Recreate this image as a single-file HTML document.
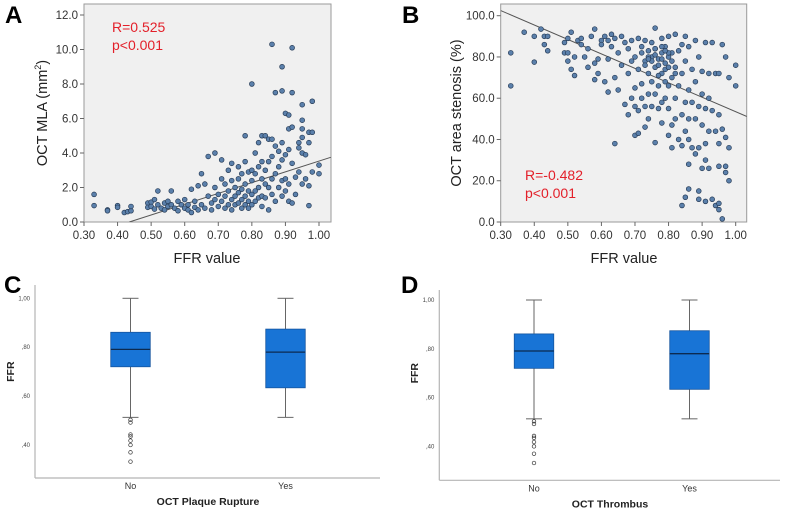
<!DOCTYPE html>
<html><head><meta charset="utf-8"><style>
body{margin:0;background:#fff;width:789px;height:513px;overflow:hidden;font-family:"Liberation Sans",sans-serif}
svg{display:block}
</style></head><body>
<svg width="789" height="513" viewBox="0 0 789 513">
<g id="gA"></g>
<g id="gB"></g>
<g id="gC"></g>
<g id="gD"></g>
</svg>
<script>
const ffrA=[0.33,0.33,0.37,0.37,0.40,0.40,0.42,0.43,0.44,0.44,0.49,0.49,0.50,0.50,0.51,0.51,0.52,0.52,0.53,0.54,0.54,0.55,0.55,0.56,0.56,0.57,0.58,0.58,0.59,0.60,0.60,0.61,0.61,0.62,0.62,0.63,0.63,0.64,0.64,0.65,0.65,0.66,0.66,0.67,0.67,0.68,0.68,0.69,0.69,0.69,0.70,0.70,0.71,0.71,0.71,0.72,0.72,0.72,0.73,0.73,0.73,0.74,0.74,0.74,0.74,0.75,0.75,0.75,0.76,0.76,0.76,0.76,0.77,0.77,0.77,0.77,0.78,0.78,0.78,0.78,0.78,0.79,0.79,0.79,0.79,0.80,0.80,0.80,0.80,0.80,0.81,0.81,0.81,0.81,0.82,0.82,0.82,0.82,0.83,0.83,0.83,0.83,0.83,0.84,0.84,0.84,0.84,0.85,0.85,0.85,0.85,0.86,0.86,0.86,0.86,0.86,0.87,0.87,0.87,0.87,0.88,0.88,0.88,0.89,0.89,0.89,0.89,0.89,0.89,0.90,0.90,0.90,0.90,0.91,0.91,0.91,0.91,0.91,0.92,0.92,0.92,0.92,0.92,0.93,0.93,0.94,0.94,0.94,0.95,0.95,0.95,0.95,0.95,0.95,0.96,0.96,0.97,0.97,0.97,0.97,0.98,0.98,0.98,1.00,1.00];
const mlaA=[1.6,0.95,0.7,0.65,0.95,0.85,0.55,0.6,0.65,0.9,1.1,0.85,1.15,0.9,1.3,0.75,1.8,1.0,0.8,1.1,0.7,1.2,0.9,1.8,1.0,0.8,1.2,0.65,1.0,1.3,0.8,1.0,0.7,1.9,0.55,1.2,0.85,2.1,0.7,2.8,1.0,2.2,0.8,3.8,1.5,1.1,0.7,4.0,2.0,1.3,1.6,0.9,3.6,2.5,1.2,2.2,1.5,0.8,3.0,1.8,1.0,3.4,2.4,1.3,0.7,2.0,1.5,1.0,3.2,2.5,1.7,1.1,2.8,1.9,1.3,0.8,5.0,3.5,2.2,1.5,1.0,2.9,1.8,1.2,0.8,8.0,3.0,2.4,1.6,1.0,4.0,2.8,1.8,1.2,4.6,3.2,2.0,1.4,5.0,3.5,2.5,1.5,0.9,5.0,3.0,2.2,1.4,4.8,3.5,2.0,0.7,10.3,4.8,3.8,2.5,1.6,7.5,4.4,2.8,1.2,4.1,3.2,2.0,9.0,7.6,4.6,3.6,2.4,1.5,6.3,3.9,2.5,1.8,6.2,5.4,4.2,2.2,1.2,10.1,7.5,5.5,3.4,1.1,2.6,1.6,4.6,4.3,2.9,6.8,5.9,5.4,4.9,4.0,2.2,3.9,2.5,5.2,4.6,2.1,0.95,7.0,5.2,2.9,3.3,2.8];
const fitA=[[0.435,0],[1.035,3.75]];
const xTicks=["0.30","0.40","0.50","0.60","0.70","0.80","0.90","1.00"];
const xTickVals=[0.3,0.4,0.5,0.6,0.7,0.8,0.9,1.0];
const yTicksA=[0,2,4,6,8,10,12];
const ffrB=[0.33,0.33,0.37,0.40,0.40,0.42,0.43,0.43,0.44,0.44,0.49,0.49,0.50,0.50,0.50,0.51,0.51,0.52,0.52,0.53,0.54,0.54,0.55,0.56,0.56,0.57,0.58,0.58,0.58,0.59,0.59,0.60,0.60,0.61,0.61,0.62,0.62,0.62,0.63,0.63,0.64,0.64,0.64,0.65,0.65,0.66,0.66,0.67,0.67,0.68,0.68,0.68,0.69,0.69,0.69,0.70,0.70,0.70,0.70,0.71,0.71,0.71,0.71,0.72,0.72,0.72,0.73,0.73,0.73,0.73,0.74,0.74,0.74,0.74,0.75,0.75,0.75,0.75,0.76,0.76,0.76,0.76,0.76,0.77,0.77,0.77,0.78,0.78,0.78,0.78,0.78,0.79,0.79,0.79,0.79,0.80,0.80,0.80,0.80,0.80,0.81,0.81,0.81,0.81,0.82,0.82,0.82,0.82,0.83,0.83,0.83,0.84,0.84,0.84,0.84,0.84,0.85,0.85,0.85,0.85,0.85,0.86,0.86,0.86,0.86,0.86,0.86,0.87,0.87,0.87,0.88,0.88,0.88,0.88,0.89,0.89,0.89,0.89,0.89,0.90,0.90,0.90,0.90,0.91,0.91,0.91,0.91,0.91,0.92,0.92,0.92,0.92,0.93,0.93,0.93,0.94,0.94,0.94,0.95,0.95,0.95,0.95,0.95,0.95,0.96,0.96,0.96,0.97,0.97,0.97,0.97,0.98,0.98,0.98,1.00,1.00,0.72,0.74,0.75,0.76,0.77,0.78,0.79,0.80,0.81,0.73,0.76,0.78,0.80,0.82,0.74,0.77,0.79];
const stenB=[82,66,92,90,77.5,93.5,90,86,83,90,87,82,89,82,78,92,74,71,80,88,86,89,80,75,84,90,93.5,77,69,72,79,88,86,90,68,88,79,63,91,85,38,70,89,64,82,90,76,57,87,52,72,84,60,78,88,42,56,65,80,43,54,74,89,67,85,60,46,56,78,88,50,62,72,83,56,68,80,87,38.5,94,62,75,84,55,66,79,48,58,72,82,89,60,68,77,85,42,55,66,80,90,36,47,70,82,91,60,75,50,40,66,83,8,37,52,72,86,12,44,58,78,90,16,28,40,50,64,85,36,58,74,33,50,68,88,11,15,36,56,80,26,47,62,73,10,30,38,55,87,26,44,60,72,11,54,87,8,44,72,6,9,27,38,52,72,1.5,45,86,24,27,41,80,20,36,70,66,76,82,80,78,81,76,79,74,82,78,76,84,85,75,72,79,71,83];
const fitB=[[0.30,102.5],[1.035,51]];
const yTicksB=[0,20,40,60,80,100];
const boxGroups=["No","Yes"];
const boxMin=[0.513,0.513];
const boxQ1=[0.720,0.634];
const boxMed=[0.791,0.780];
const boxQ3=[0.861,0.874];
const boxMax=[1.00,1.00];
const outliersNo=[0.503,0.492,0.443,0.435,0.418,0.400,0.370,0.332];
const boxTicks=["1,00",",80",",60",",40"];
const boxTickVals=[1.0,0.8,0.6,0.4];

const NS="http://www.w3.org/2000/svg";
function mk(parent,tag,attrs,text){const e=document.createElementNS(NS,tag);for(const k in attrs)e.setAttribute(k,attrs[k]);if(text!==undefined)e.textContent=text;parent.appendChild(e);return e;}

function scatter(g,o){
  const sx=v=>o.x0+(v-0.3)*o.kx, sy=v=>o.yb-(v-o.ymin)*o.ky;
  const bg=mk(g,'rect',{x:o.x0,y:o.top,width:o.right-o.x0,height:o.yb-o.top,fill:'#f0f0f0',stroke:'#9a9a9a','stroke-width':1});
  
  
  xTickVals.forEach((v,i)=>{
    mk(g,'line',{x1:sx(v),x2:sx(v),y1:o.yb,y2:o.yb+4,stroke:'#666'});
    const t=mk(g,'text',{x:sx(v),y:o.yb+17,'text-anchor':'middle','font-size':11.5,fill:'#333'},xTicks[i]);
    
    
  });
  o.yt.forEach(v=>{
    mk(g,'line',{x1:o.x0-4,x2:o.x0,y1:sy(v),y2:sy(v),stroke:'#666'});
    const t=mk(g,'text',{x:o.x0-6,y:sy(v)+4,'text-anchor':'end','font-size':11.5,fill:'#333'},v.toFixed(1));
    
    
  });
  const clip=mk(g,'clipPath',{id:o.id+'clip'});mk(clip,'rect',{x:o.x0,y:o.top,width:o.right-o.x0,height:o.yb-o.top});
  const fl=mk(g,'line',{x1:sx(o.fit[0][0]),y1:sy(o.fit[0][1]),x2:sx(o.fit[1][0]),y2:sy(o.fit[1][1]),stroke:'#555','stroke-width':1,'clip-path':'url(#'+o.id+'clip)'});
  
  
  o.xs.forEach((v,i)=>{
    const c=mk(g,'circle',{cx:sx(v),cy:sy(o.ys[i]),r:2.4,fill:'#5b80ab',stroke:'#253a55','stroke-width':0.7});
    
    
  });
  const xt=mk(g,'text',{x:o.xtx,y:263,'text-anchor':'middle','font-size':14.5,fill:'#222'},'FFR value');
  
  
  const yt=mk(g,'text',{x:0,y:0,'text-anchor':'middle','font-size':14.5,fill:'#222',transform:`translate(${o.ytx},${o.yty}) rotate(-90)`});
  
  
  yt.innerHTML=o.ylab;
  o.r.forEach((s,i)=>{
    const t=mk(g,'text',{x:o.rx,y:o.ry+i*18,'font-size':14,fill:'#e3202a'},s);
    
    
  });
  const L=mk(g,'text',{x:o.lx,y:23,'font-size':24,'font-weight':'bold',fill:'#000'},o.letter);
  
  
}
scatter(document.getElementById('gA'),{id:'a',x0:84,right:331,top:4,yb:222,kx:335.7,ky:17.25,ymin:0,yt:yTicksA,xs:ffrA,ys:mlaA,fit:fitA,xtx:207,ytx:47,yty:113,ylab:'OCT MLA (mm<tspan font-size="9" dy="-6">2</tspan><tspan dy="6">)</tspan>',r:['R=0.525','p<0.001'],rx:112,ry:32,lx:5,letter:'A'});
scatter(document.getElementById('gB'),{id:'b',x0:500.7,right:746.7,top:4,yb:222,kx:335.7,ky:2.063,ymin:0,yt:yTicksB,xs:ffrB,ys:stenB,fit:fitB,xtx:624,ytx:461,yty:113,ylab:'OCT area stenosis (%)',r:['R=-0.482','p<0.001'],rx:525,ry:180,lx:402,letter:'B'});

function boxplot(g,o){
  const sy=v=>o.y1+(1-v)*o.k;
  mk(g,'line',{x1:o.ax,x2:o.ax,y1:o.top,y2:o.yb,stroke:'#b5b5b5','stroke-width':1.2});
  mk(g,'line',{x1:o.ax,x2:o.right,y1:o.yb,y2:o.yb,stroke:'#b5b5b5','stroke-width':1.2});
  boxTickVals.forEach((v,i)=>{
    const t=mk(g,'text',{x:o.ax-5,y:sy(v)+2,'text-anchor':'end','font-size':6,fill:'#444'},boxTicks[i]);
    
    
  });
  boxGroups.forEach((grp,i)=>{
    const cx=o.cx[i],w=39.5;
    mk(g,'line',{x1:cx,x2:cx,y1:sy(boxMax[i]),y2:sy(boxMin[i]),stroke:'#666','stroke-width':1});
    mk(g,'line',{x1:cx-8,x2:cx+8,y1:sy(boxMax[i]),y2:sy(boxMax[i]),stroke:'#666','stroke-width':1});
    mk(g,'line',{x1:cx-8,x2:cx+8,y1:sy(boxMin[i]),y2:sy(boxMin[i]),stroke:'#666','stroke-width':1});
    const b=mk(g,'rect',{x:cx-w/2,y:sy(boxQ3[i]),width:w,height:sy(boxQ1[i])-sy(boxQ3[i]),fill:'#1874d6',stroke:'#15559e','stroke-width':0.8});
    
    
    mk(g,'line',{x1:cx-w/2,x2:cx+w/2,y1:sy(boxMed[i]),y2:sy(boxMed[i]),stroke:'#0c2a50','stroke-width':1.3});
    const t=mk(g,'text',{x:cx,y:o.yb+11,'text-anchor':'middle','font-size':9,fill:'#333'},grp);
    
    
  });
  outliersNo.forEach(v=>{
    const c=mk(g,'circle',{cx:o.cx[0],cy:sy(v),r:1.8,fill:'none',stroke:'#333','stroke-width':0.7});
    
    
  });
  const xt=mk(g,'text',{x:o.xtx,y:o.yb+27,'text-anchor':'middle','font-size':10.5,'font-weight':'bold',fill:'#222'},o.title);
  
  
  const yt=mk(g,'text',{x:0,y:0,'text-anchor':'middle','font-size':10.5,'font-weight':'bold',fill:'#222',transform:`translate(${o.ytx},${sy(0.7)}) rotate(-90)`},'FFR');
  
  
  const L=mk(g,'text',{x:o.lx,y:293,'font-size':24,'font-weight':'bold',fill:'#000'},o.letter);
  
  
}
boxplot(document.getElementById('gC'),{ax:35,top:285,yb:478,right:380,y1:298.3,k:244.5,cx:[130.5,285.5],xtx:208,title:'OCT Plaque Rupture',ytx:14,lx:4,letter:'C'});
boxplot(document.getElementById('gD'),{ax:439.3,top:290,yb:480.3,right:780,y1:300,k:244,cx:[534,689.5],xtx:610,title:'OCT Thrombus',ytx:418,lx:401,letter:'D'});
</script>
</body></html>
